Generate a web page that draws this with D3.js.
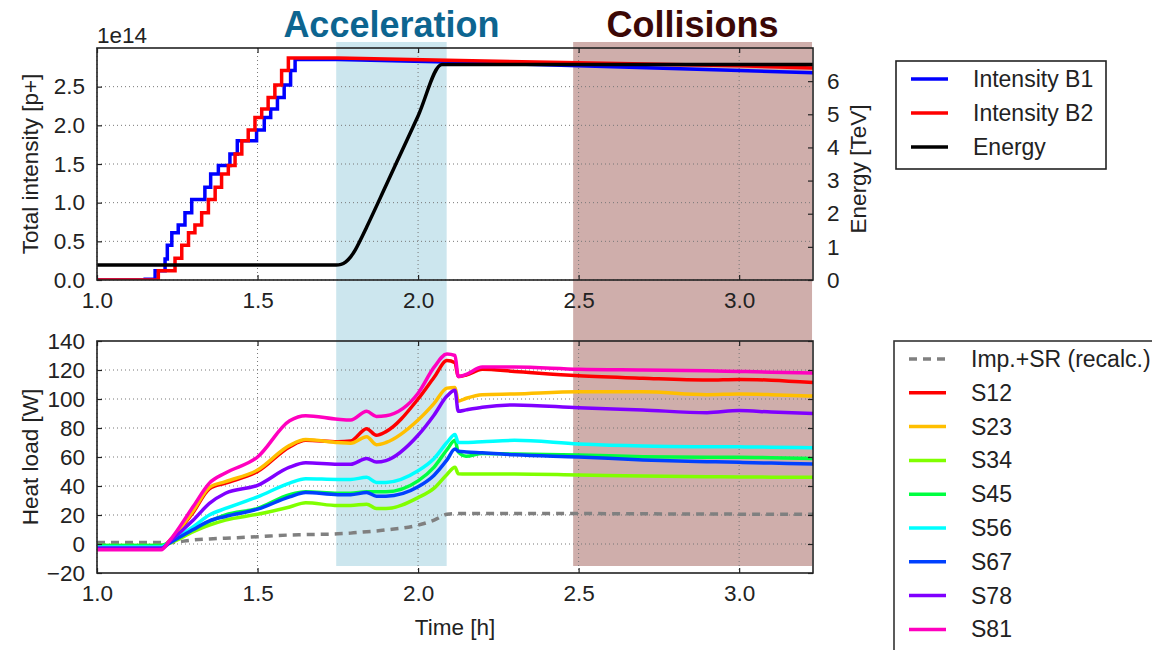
<!DOCTYPE html>
<html>
<head>
<meta charset="utf-8">
<script src="https://cdn.jsdelivr.net/npm/d3@7"></script>
<style>
  body { margin: 0; background: #fff; }
  svg { display: block; font-family: "Liberation Sans", Arial, sans-serif; }
</style>
</head>
<body>
<div id="chart"></div>
<script>
// ---- data ----
// top panel: beam intensity staircases (1e14 p+) and energy (TeV)
const b1StepTimes = [1.150, 1.181, 1.212, 1.219, 1.233, 1.253, 1.274, 1.295, 1.336, 1.354, 1.378, 1.414, 1.437, 1.497, 1.521, 1.541, 1.562, 1.583, 1.603, 1.617];
const b1StepLevels = [0.01, 0.12, 0.27, 0.45, 0.61, 0.71, 0.87, 1.04, 1.20, 1.37, 1.48, 1.63, 1.80, 1.94, 2.10, 2.21, 2.36, 2.52, 2.71, 2.85];
const b2StepTimes = [1.191, 1.243, 1.264, 1.285, 1.305, 1.326, 1.347, 1.368, 1.388, 1.409, 1.430, 1.451, 1.471, 1.492, 1.513, 1.533, 1.554, 1.575, 1.596];
const b2StepLevels = [0.12, 0.28, 0.45, 0.61, 0.71, 0.87, 1.04, 1.20, 1.37, 1.48, 1.63, 1.80, 1.94, 2.10, 2.21, 2.36, 2.52, 2.71, 2.87];
const tailTimes = [1.75, 2.09, 2.5, 3.0, 3.23];
const b1Tail = [2.85, 2.82, 2.77, 2.71, 2.68];
const b2Tail = [2.87, 2.84, 2.81, 2.77, 2.74];
const energyTimes = [1.0, 1.745, 1.76, 1.775, 1.79, 1.805, 1.82, 1.84, 1.9, 1.95, 2.0, 2.074, 3.23];
const energyValues = [0.45, 0.45, 0.47, 0.55, 0.7, 0.92, 1.2, 1.6, 2.85, 3.9, 4.95, 6.5, 6.5];

// bottom panel: heat load per sector (W)
const hlTimes = [1.0, 1.2, 1.225, 1.3, 1.35, 1.4, 1.5, 1.6, 1.65, 1.75, 1.79, 1.84, 1.87, 1.9, 2.0, 2.05, 2.09, 2.115, 2.125, 2.15, 2.2, 2.3, 2.5, 2.7, 2.9, 3.0, 3.1, 3.23];
const impSR = [1, 1, 1, 2.8, 3.5, 4, 5, 6.2, 6.5, 7, 7.5, 8.5, 9, 9.7, 13, 16.5, 20.5, 21, 21, 21, 21, 21, 21, 20.8, 20.7, 20.6, 20.5, 20.5];
const s12 = [-3, -3, 2, 22, 38, 42, 50, 67, 71.5, 70.5, 71, 79.5, 75, 77.5, 100, 115, 126.5, 125, 115.5, 116.5, 120.5, 119, 116, 114.3, 113.1, 113.5, 113, 111.3];
const s23 = [-2, -2, 2, 23, 39, 43, 51, 68, 72, 70, 69.5, 74, 68.5, 70, 85.5, 97, 107.5, 108, 98.5, 100.5, 103, 103.5, 105, 105, 103, 103.4, 103, 102];
const s34 = [-1, -1, 0.5, 8.5, 13, 16.5, 20.5, 25.5, 28.5, 26.5, 26.5, 27.5, 24.5, 24.5, 32, 38.5, 48, 53, 48.5, 48.3, 48.3, 48.3, 47.6, 46.9, 46.4, 46.2, 46.1, 46];
const s45 = [-1, -1, 1, 10, 15.5, 20, 24.5, 34, 36, 35, 35, 36, 36, 36, 43.5, 53, 65, 71.5, 63.5, 60.5, 62.5, 62, 61.4, 60.2, 59.8, 59.8, 59.5, 59];
const s56 = [-2, -2, 1, 12, 20, 24.5, 32.5, 42, 45, 44.5, 44.5, 46, 42.5, 42.5, 50.5, 59, 70, 75.5, 70, 70, 70.5, 71.5, 69, 67.6, 67.1, 67, 66.8, 66.4];
const s67 = [-3, -3, 0.5, 10, 16, 19, 24, 32.5, 35.5, 34, 34, 35.5, 33, 33, 39.5, 47.5, 58, 65.5, 64, 63.5, 63, 61.5, 60, 58, 56.8, 56.3, 55.8, 55.2];
const s78 = [-3, -3, 1.5, 16.5, 28, 35, 40.5, 53, 56, 55, 55, 59, 56.5, 57.5, 75, 89, 102, 106, 91.5, 92.5, 94.3, 95.9, 94, 92.4, 90.6, 92, 91, 90];
const s81 = [-4, -4, 2, 26, 42, 49, 60, 85, 88.5, 86, 85.5, 91.5, 88, 88.5, 104, 122, 131, 130, 115.5, 117, 122, 122, 120.5, 120, 119.5, 119, 118.5, 118];

const sectorNames = ["S12", "S23", "S34", "S45", "S56", "S67", "S78", "S81"];
const sectorValues = [s12, s23, s34, s45, s56, s67, s78, s81];
const sectorColors = ["#ff0000", "#ffbf00", "#80ff00", "#00ff40", "#00ffff", "#0040ff", "#8000ff", "#ff00bf"];

const xTicks = [1.0, 1.5, 2.0, 2.5, 3.0];
const intensityTicks = [0, 0.5, 1.0, 1.5, 2.0, 2.5];
const energyTicks = [0, 1, 2, 3, 4, 5, 6];
const heatTicks = [-20, 0, 20, 40, 60, 80, 100, 120, 140];

// phase bands (h)
const bandNames = ["Acceleration", "Collisions"];
const bandStart = [1.745, 2.483];
const bandEnd = [2.089, 3.227];
const bandFill = ["#cce6ee", "#cfaeab"];
const bandText = ["#0d6590", "#3c0806"];

// ---- layout ----
const W = 1152, H = 650;
const left = 97, right = 813;
const top1 = 48, bot1 = 280;
const top2 = 341, bot2 = 573;

const svg = d3.select("#chart").append("svg").attr("width", W).attr("height", H);

const x = d3.scaleLinear().domain([1.0, 3.23]).range([left, right]);
const yI = d3.scaleLinear().domain([0, 3.0]).range([bot1, top1]);
const yE = d3.scaleLinear().domain([0, 7]).range([bot1, top1]);
const yH = d3.scaleLinear().domain([-20, 140]).range([bot2, top2]);

// bands behind everything
bandNames.forEach((name, i) => {
    svg.append("rect")
        .attr("x", x(bandStart[i])).attr("y", 42)
        .attr("width", x(bandEnd[i]) - x(bandStart[i])).attr("height", 566 - 42)
        .attr("fill", bandFill[i]);
    svg.append("text")
        .attr("x", (x(bandStart[i]) + x(bandEnd[i])) / 2).attr("y", 37)
        .attr("text-anchor", "middle")
        .attr("font-size", 36).attr("font-weight", "bold")
        .attr("fill", bandText[i])
        .text(name);
});

const defs = svg.append("defs");
defs.append("clipPath").attr("id", "clipTop").append("rect")
    .attr("x", left).attr("y", top1).attr("width", right - left).attr("height", bot1 - top1);
defs.append("clipPath").attr("id", "clipBot").append("rect")
    .attr("x", left).attr("y", top2).attr("width", right - left).attr("height", bot2 - top2);

function grid(g, yScale, yTicks, y0, y1) {
    const gg = g.append("g").attr("stroke", "#777").attr("stroke-width", 1).attr("stroke-dasharray", "1,3");
    xTicks.forEach(t => {
        gg.append("line").attr("x1", x(t)).attr("x2", x(t)).attr("y1", y0).attr("y2", y1);
    });
    yTicks.forEach(t => {
        gg.append("line").attr("x1", left).attr("x2", right).attr("y1", yScale(t)).attr("y2", yScale(t));
    });
}

function frame(g, y0, y1, leftScale, leftTicks, leftFmt, rightScale, rightTicks, rightFmt) {
    const tl = 5;
    // x axis bottom + top ticks (inward)
    const xb = g.append("g").attr("transform", `translate(0,${y1})`)
        .call(d3.axisBottom(x).tickValues(xTicks).tickFormat(d3.format(".1f")).tickSize(-tl).tickPadding(12));
    const xt = g.append("g").attr("transform", `translate(0,${y0})`)
        .call(d3.axisTop(x).tickValues(xTicks).tickFormat("").tickSize(-tl));
    const yl = g.append("g").attr("transform", `translate(${left},0)`)
        .call(d3.axisLeft(leftScale).tickValues(leftTicks).tickFormat(leftFmt).tickSize(-tl).tickPadding(12));
    const yr = g.append("g").attr("transform", `translate(${right},0)`)
        .call(d3.axisRight(rightScale).tickValues(rightTicks).tickFormat(rightFmt).tickSize(-tl).tickPadding(14));
    [xb, xt, yl, yr].forEach(a => {
        a.select(".domain").remove();
        a.selectAll(".tick line").attr("stroke", "#222").attr("stroke-width", 1.2);
        a.selectAll(".tick text").attr("font-size", 22.5).attr("fill", "#222")
            .attr("font-family", "'Liberation Sans', Arial, sans-serif");
    });
    g.append("rect").attr("x", left).attr("y", y0).attr("width", right - left).attr("height", y1 - y0)
        .attr("fill", "none").attr("stroke", "#222").attr("stroke-width", 1.6);
}

// ---- top panel ----
const gTop = svg.append("g");
grid(gTop, yI, intensityTicks, top1, bot1);

function stairs(times, levels, tT, tV) {
    const pts = [[1.0, 0]];
    let prev = 0;
    times.forEach((t, i) => {
        pts.push([t, prev]);
        pts.push([t, levels[i]]);
        prev = levels[i];
    });
    tT.forEach((t, i) => pts.push([t, tV[i]]));
    return pts;
}

const lineI = d3.line().x(d => x(d[0])).y(d => yI(d[1]));
const topLines = gTop.append("g").attr("clip-path", "url(#clipTop)");
topLines.append("path").datum(stairs(b1StepTimes, b1StepLevels, tailTimes, b1Tail))
    .attr("d", lineI).attr("fill", "none").attr("stroke", "#0000ff").attr("stroke-width", 3.5);
topLines.append("path").datum(stairs(b2StepTimes, b2StepLevels, tailTimes, b2Tail))
    .attr("d", lineI).attr("fill", "none").attr("stroke", "#ff0000").attr("stroke-width", 3.5);
const lineE = d3.line().x((d, i) => x(energyTimes[i])).y(d => yE(d)).curve(d3.curveMonotoneX);
topLines.append("path").datum(energyValues)
    .attr("d", lineE).attr("fill", "none").attr("stroke", "#000").attr("stroke-width", 3.5);

frame(gTop, top1, bot1, yI, intensityTicks, d3.format(".1f"), yE, energyTicks, d3.format("d"));

svg.append("text").attr("x", left).attr("y", 43).attr("font-size", 22.5).attr("fill", "#222").text("1e14");
svg.append("text").attr("transform", `translate(38,${(top1 + bot1) / 2}) rotate(-90)`)
    .attr("text-anchor", "middle").attr("font-size", 22.5).attr("fill", "#222").text("Total intensity [p+]");
svg.append("text").attr("transform", `translate(866,${(top1 + bot1) / 2 + 5}) rotate(-90)`)
    .attr("text-anchor", "middle").attr("font-size", 22.5).attr("fill", "#222").text("Energy [TeV]");

// ---- bottom panel ----
const gBot = svg.append("g");
grid(gBot, yH, heatTicks.slice(1, -1), top2, bot2);
const botLines = gBot.append("g").attr("clip-path", "url(#clipBot)");
const lineH = d3.line().x((d, i) => x(hlTimes[i])).y(d => yH(d)).curve(d3.curveMonotoneX);

botLines.append("path").datum(impSR).attr("d", lineH)
    .attr("fill", "none").attr("stroke", "#808080").attr("stroke-width", 3.5).attr("stroke-dasharray", "8,6");
sectorValues.forEach((vals, i) => {
    botLines.append("path").datum(vals).attr("d", lineH)
        .attr("fill", "none").attr("stroke", sectorColors[i]).attr("stroke-width", 3.5)
        .attr("stroke-linejoin", "round");
});

const heatFmt = d => d < 0 ? "\u2212" + Math.abs(d) : String(d);
frame(gBot, top2, bot2, yH, heatTicks, heatFmt, yH, heatTicks, "");

svg.append("text").attr("transform", `translate(38,${(top2 + bot2) / 2}) rotate(-90)`)
    .attr("text-anchor", "middle").attr("font-size", 22.5).attr("fill", "#222").text("Heat load [W]");
svg.append("text").attr("x", (left + right) / 2).attr("y", 635)
    .attr("text-anchor", "middle").attr("font-size", 22.5).attr("fill", "#222").text("Time [h]");

// ---- legends ----
const leg1 = svg.append("g");
leg1.append("rect").attr("x", 896).attr("y", 61).attr("width", 210).attr("height", 108)
    .attr("fill", "#fff").attr("stroke", "#222").attr("stroke-width", 1.6);
const leg1Names = ["Intensity B1", "Intensity B2", "Energy"];
const leg1Colors = ["#0000ff", "#ff0000", "#000000"];
leg1Names.forEach((n, i) => {
    const yy = 79 + i * 34;
    leg1.append("line").attr("x1", 911).attr("x2", 948).attr("y1", yy).attr("y2", yy)
        .attr("stroke", leg1Colors[i]).attr("stroke-width", 3.5);
    leg1.append("text").attr("x", 973).attr("y", yy + 8).attr("font-size", 23).attr("fill", "#222").text(n);
});

const leg2 = svg.append("g");
leg2.append("rect").attr("x", 894).attr("y", 341).attr("width", 300).attr("height", 340)
    .attr("fill", "#fff").attr("stroke", "#333").attr("stroke-width", 1.6);
const leg2Names = ["Imp.+SR (recalc.)"].concat(sectorNames);
const leg2Colors = ["#808080"].concat(sectorColors);
leg2Names.forEach((n, i) => {
    const yy = 359 + i * 33.8;
    leg2.append("line").attr("x1", 909).attr("x2", 946).attr("y1", yy).attr("y2", yy)
        .attr("stroke", leg2Colors[i]).attr("stroke-width", 3.5)
        .attr("stroke-dasharray", i === 0 ? "8,6" : null);
    leg2.append("text").attr("x", 971).attr("y", yy + 8).attr("font-size", 23).attr("fill", "#222").text(n);
});
</script>
</body>
</html>
